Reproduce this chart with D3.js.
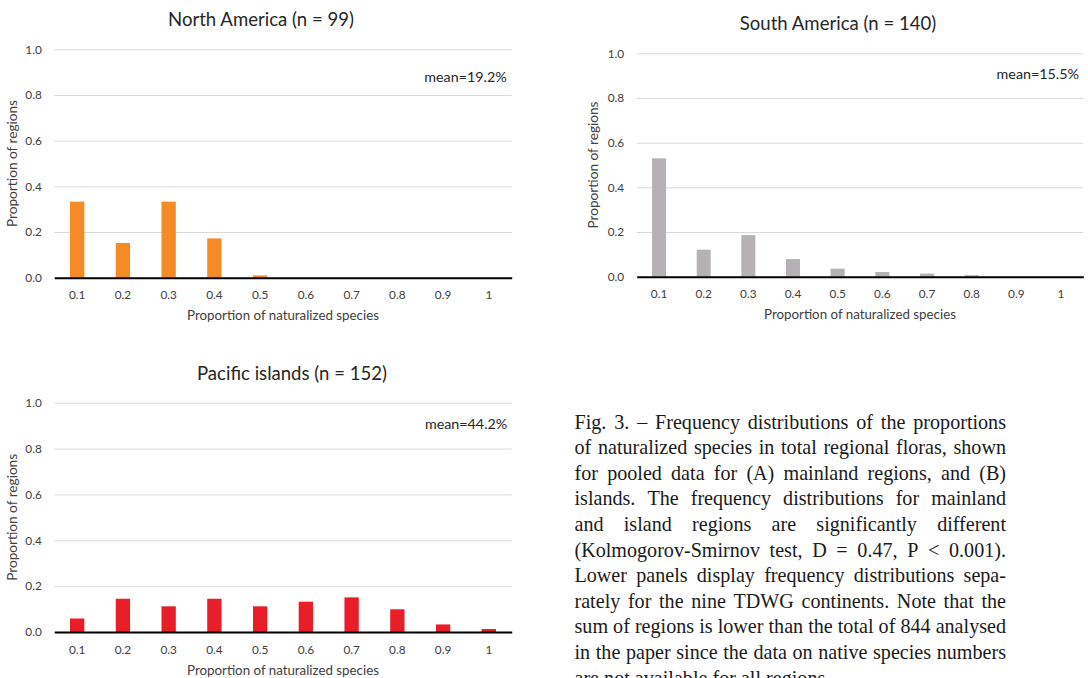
<!DOCTYPE html>
<html>
<head>
<meta charset="utf-8">
<script src="https://cdn.jsdelivr.net/npm/d3@7"></script>
<style>
  html, body { margin: 0; padding: 0; background: #fff; overflow: hidden; }
  svg { display: block; }
</style>
</head>
<body>
<svg id="chart" width="1088" height="678"></svg>
<script>
// ---------- data ----------
const bins = ["0.1", "0.2", "0.3", "0.4", "0.5", "0.6", "0.7", "0.8", "0.9", "1"];
const northAmerica   = [0.333, 0.152, 0.333, 0.172, 0.010, 0, 0, 0, 0, 0];
const southAmerica   = [0.530, 0.121, 0.186, 0.079, 0.036, 0.021, 0.014, 0.007, 0, 0];
const pacificIslands = [0.059, 0.145, 0.112, 0.145, 0.112, 0.132, 0.151, 0.099, 0.033, 0.013];
const panelTitles = ["North America (n = 99)", "South America (n = 140)", "Pacific islands (n = 152)"];
const panelMeans  = ["mean=19.2%", "mean=15.5%", "mean=44.2%"];
const yTicks = [0, 0.2, 0.4, 0.6, 0.8, 1.0];
const xAxisTitle = "Proportion of naturalized species";
const yAxisTitle = "Proportion of regions";
const captionLines = [
  "Fig. 3. \u2013 Frequency distributions of the proportions",
  "of naturalized species in total regional floras, shown",
  "for pooled data for (A) mainland regions, and (B)",
  "islands. The frequency distributions for mainland",
  "and island regions are significantly different",
  "(Kolmogorov-Smirnov test, D = 0.47, P < 0.001).",
  "Lower panels display frequency distributions sepa-",
  "rately for the nine TDWG continents. Note that the",
  "sum of regions is lower than the total of 844 analysed",
  "in the paper since the data on native species numbers",
  "are not available for all regions."
];

// ---------- layout ----------
const svg = d3.select("#chart");
svg.append("rect").attr("width", 1088).attr("height", 678).attr("fill", "#fff");

const FONT = "Lato, 'Open Sans', sans-serif";
const TEXT = "#404040";

// fit font sizes so text widths match reference
function fitSize(str, family, target) {
  const t = svg.append("text").attr("font-family", family).attr("font-size", 20).text(str);
  const w = t.node().getComputedTextLength();
  t.remove();
  return 20 * target / w;
}
const titleSize = fitSize(panelTitles[0], FONT, 186);
const tickSize  = fitSize("0.1", FONT, 16.5);
const axisSize  = fitSize(xAxisTitle, FONT, 192);
const ySize     = fitSize(yAxisTitle, FONT, 127);
const meanSize  = fitSize(panelMeans[0], FONT, 82.5);

const panels = [
  { values: northAmerica,   color: "#F48B24", left: 54.3,  right: 511.7,  top: 49.3,  bottom: 277.7,
    titleX: 261, titleY: 26, meanX: 506.7, meanY: 82, yTitleX: 17 },
  { values: southAmerica,   color: "#B5B1B4", left: 636.7, right: 1083.3, top: 53.3,  bottom: 276.7,
    titleX: 838, titleY: 30, meanX: 1079, meanY: 79, yTitleX: 598 },
  { values: pacificIslands, color: "#E81F28", left: 54.3,  right: 511.7,  top: 402.7, bottom: 632,
    titleX: 292, titleY: 380, meanX: 507.3, meanY: 429, yTitleX: 17 }
];

panels.forEach((p, i) => {
  const w = p.right - p.left, h = p.bottom - p.top;
  const g = svg.append("g").attr("transform", `translate(${p.left},${p.top})`);
  const x = d3.scaleBand().domain(bins).range([0, w]).paddingInner(0.687).paddingOuter(0.3435);
  const y = d3.scaleLinear().domain([0, 1]).range([h, 0]);

  // gridlines + y labels
  const ya = g.append("g").call(d3.axisLeft(y).tickValues(yTicks).tickFormat(d3.format(".1f"))
    .tickSize(-w).tickPadding(12.5));
  ya.select(".domain").remove();
  ya.selectAll(".tick line").attr("stroke", "#D9D9D9").attr("stroke-width", 1);
  ya.selectAll(".tick text").attr("fill", TEXT).attr("font-family", FONT).attr("font-size", tickSize);

  // bars
  g.selectAll("rect.bar").data(p.values).join("rect").attr("class", "bar")
    .attr("x", (d, j) => x(bins[j]))
    .attr("width", x.bandwidth())
    .attr("y", d => y(d))
    .attr("height", d => y(0) - y(d))
    .attr("fill", p.color);

  // x axis
  const xa = g.append("g").attr("transform", `translate(0,${h})`)
    .call(d3.axisBottom(x).tickSize(0).tickPadding(0));
  xa.select(".domain").attr("stroke", "#000").attr("stroke-width", 2);
  xa.selectAll(".tick text").attr("y", 21.5).attr("dy", 0)
    .attr("fill", TEXT).attr("font-family", FONT).attr("font-size", tickSize);

  // titles
  svg.append("text").attr("x", p.titleX).attr("y", p.titleY).attr("text-anchor", "middle")
    .attr("font-family", FONT).attr("font-size", titleSize).attr("fill", "#262626").text(panelTitles[i]);
  svg.append("text").attr("x", p.meanX).attr("y", p.meanY).attr("text-anchor", "end")
    .attr("font-family", FONT).attr("font-size", meanSize).attr("fill", "#262626").text(panelMeans[i]);
  svg.append("text").attr("x", p.left + w / 2).attr("y", p.bottom + 42.5).attr("text-anchor", "middle")
    .attr("font-family", FONT).attr("font-size", axisSize).attr("fill", TEXT).text(xAxisTitle);
  svg.append("text").attr("transform", `translate(${p.yTitleX},${p.top + h / 2}) rotate(-90)`)
    .attr("text-anchor", "middle")
    .attr("font-family", FONT).attr("font-size", ySize).attr("fill", TEXT).text(yAxisTitle);
});

// ---------- caption (justified) ----------
const CAP_FONT = "'Liberation Serif', 'Times New Roman', serif";
const capLeft = 574.5, capWidth = 431.5, capTop = 428.5, capLead = 25.6;
const capSize = fitSize(captionLines[8], CAP_FONT, capWidth);
const cap = svg.append("g").attr("font-family", CAP_FONT).attr("font-size", capSize).attr("fill", "#1a1a1a");
captionLines.forEach((line, li) => {
  const yPos = capTop + li * capLead;
  const words = line.split(" ");
  const last = li === captionLines.length - 1;
  const widths = words.map(wd => {
    const t = cap.append("text").text(wd);
    const ww = t.node().getComputedTextLength();
    t.remove();
    return ww;
  });
  let gap;
  if (last) {
    const sp = cap.append("text").text("a a");
    const spW = sp.node().getComputedTextLength();
    sp.remove();
    const t2 = cap.append("text").text("aa");
    gap = spW - t2.node().getComputedTextLength();
    t2.remove();
  } else {
    gap = (capWidth - d3.sum(widths)) / (words.length - 1);
  }
  let xPos = capLeft;
  const t = cap.append("text").attr("y", yPos);
  words.forEach((wd, k) => {
    t.append("tspan").attr("x", xPos).text(wd);
    xPos += widths[k] + gap;
  });
});
</script>
</body>
</html>
